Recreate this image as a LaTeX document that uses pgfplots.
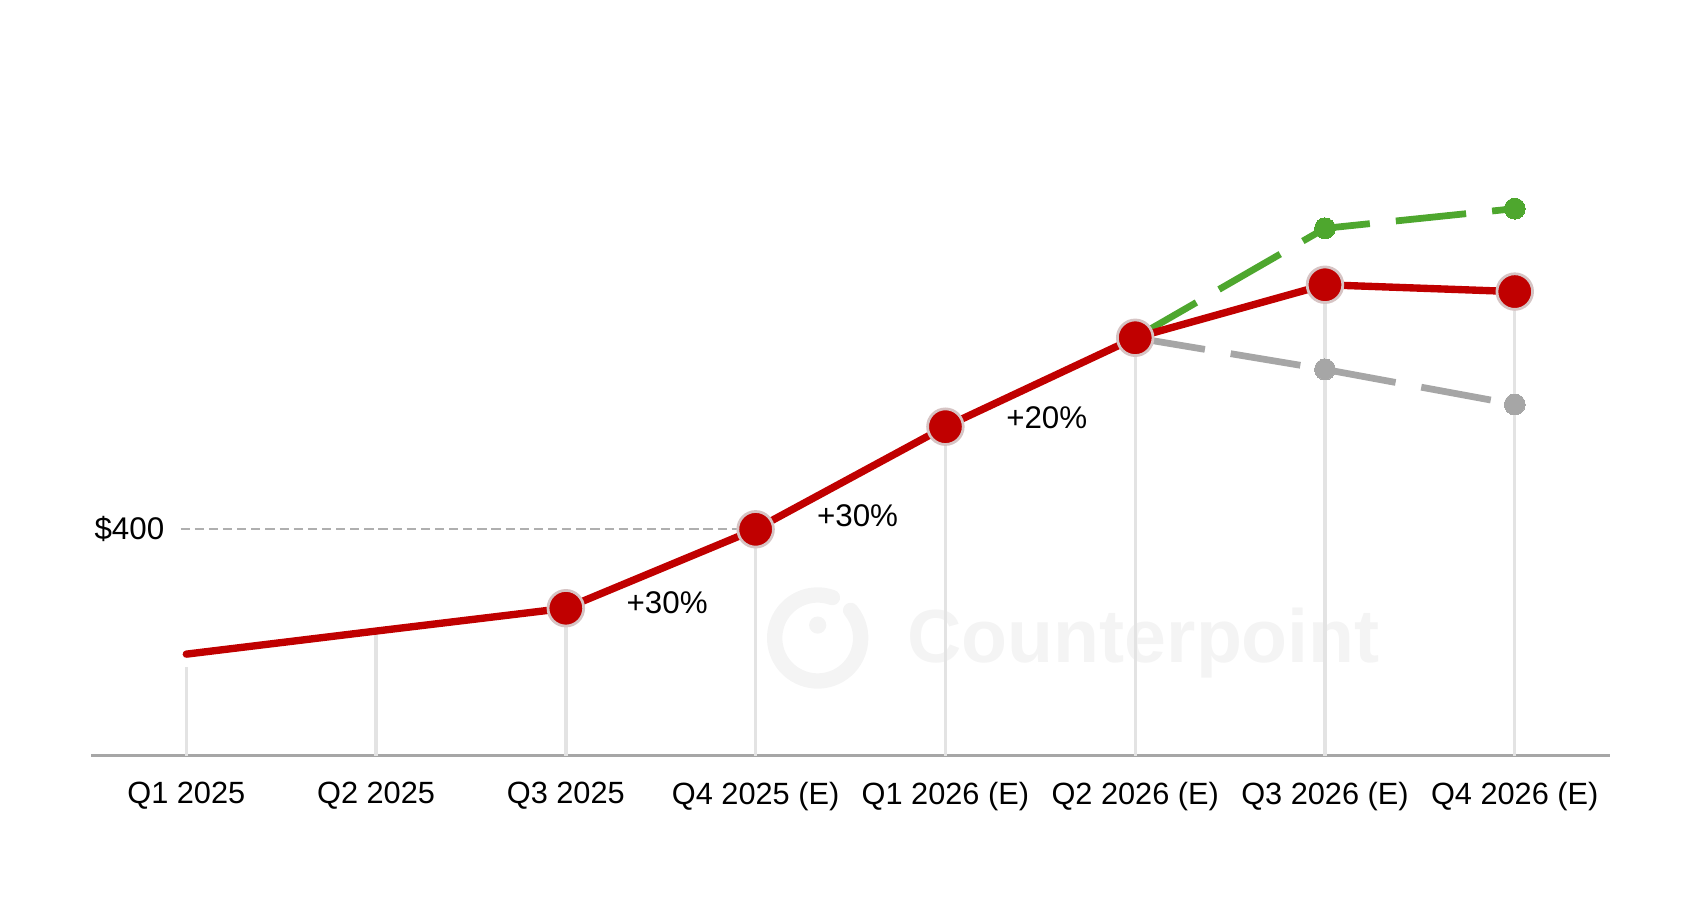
\documentclass[border=0pt]{standalone}
\usepackage{pgfplots}
\pgfplotsset{compat=1.18}
\usepackage{fontspec}
\setmainfont{Liberation Sans}
\definecolor{cpred}{HTML}{C00000}
\definecolor{cpgreen}{HTML}{4EA72E}
\definecolor{cpgray}{HTML}{A6A6A6}
\definecolor{droplc}{HTML}{E3E3E3}
\definecolor{mborder}{HTML}{D6C4C4}
\definecolor{wm}{HTML}{F4F4F4}
\begin{document}
\begin{tikzpicture}[x=0.35pt,y=0.35pt]
\useasboundingbox (0,0) rectangle (1568,853);
\begin{axis}[
  at={(85*0.35pt,150*0.35pt)}, anchor=south west,
  scale only axis,
  width=1412*0.35pt, height=703*0.35pt,
  xmin=-0.5, xmax=7.5, ymin=135, ymax=1019,
  axis x line=bottom, axis y line=none,
  axis line style={draw=cpgray, line width=1pt, -},
  xtick={0,...,7},
  xticklabels={Q1 2025,Q2 2025,Q3 2025,Q4 2025 (E),Q1 2026 (E),Q2 2026 (E),Q3 2026 (E),Q4 2026 (E)},
  major tick length=0pt,
  xticklabel style={font=\fontsize{10}{12}\selectfont, yshift=-5.1pt},
  ytick=\empty,
  clip=false,
]
% watermark
\draw[wm, line width=5pt, line cap=round] (axis cs:3.327,272.9) ++(70:14pt) arc[start angle=70, end angle=400, radius=14pt];
\fill[wm] (axis cs:3.327,288) circle[radius=2.8pt];
\node[text=wm, font=\fontsize{24.5}{28}\selectfont\bfseries, anchor=base west, inner sep=0pt] at (axis cs:3.797,244) {Counterpoint};
% drop lines
\addplot[draw=droplc, line width=1.1pt, forget plot] coordinates {(0,135) (0,239)};
\addplot[draw=droplc, line width=1.1pt, forget plot] coordinates {(1,135) (1,281)};
\addplot[draw=droplc, line width=1.1pt, forget plot] coordinates {(2,135) (2,307.7)};
\addplot[draw=droplc, line width=1.1pt, forget plot] coordinates {(3,135) (3,400)};
\addplot[draw=droplc, line width=1.1pt, forget plot] coordinates {(4,135) (4,520)};
\addplot[draw=droplc, line width=1.1pt, forget plot] coordinates {(5,135) (5,624)};
\addplot[draw=droplc, line width=1.1pt, forget plot] coordinates {(6,135) (6,686)};
\addplot[draw=droplc, line width=1.1pt, forget plot] coordinates {(7,135) (7,678)};
% $400 reference
\addplot[draw=cpgray!90, line width=0.6pt, dash pattern=on 3pt off 1.6pt] coordinates {(-0.03,400) (3,400)};
% scenarios
\addplot[draw=cpgray, line width=2.2pt, dash pattern=on 23pt off 8.5pt, mark=*, mark size=3.4pt, mark options={solid, fill=cpgray, draw=cpgray, line width=0pt}] coordinates {(5,624) (6,587) (7,546)};
\addplot[draw=cpgreen, line width=2.2pt, dash pattern=on 23pt off 8.5pt, mark=*, mark size=3.4pt, mark options={solid, fill=cpgreen, draw=cpgreen, line width=0pt}] coordinates {(5,624) (6,752) (7,775)};
% main
\addplot[draw=cpred, line width=2.4pt, mark=none, line cap=round] coordinates {(0,254) (1,281) (2,307.7) (3,400) (4,520) (5,624) (6,686) (7,678)};
\addplot[only marks, mark=*, mark size=5.8pt, mark options={fill=cpred, draw=mborder, line width=0.9pt}] coordinates {(2,307.7) (3,400) (4,520) (5,624) (6,686) (7,678)};
% labels
\node[anchor=east, font=\fontsize{10.2}{12}\selectfont, inner sep=0pt] at (axis cs:-0.113,400) {\$400};
\node[font=\fontsize{10.2}{12}\selectfont] at (axis cs:2.534,314.5) {+30\%};
\node[font=\fontsize{10.2}{12}\selectfont] at (axis cs:3.537,416.4) {+30\%};
\node[font=\fontsize{10.2}{12}\selectfont] at (axis cs:4.534,530.8) {+20\%};
\end{axis}
\end{tikzpicture}
\end{document}
